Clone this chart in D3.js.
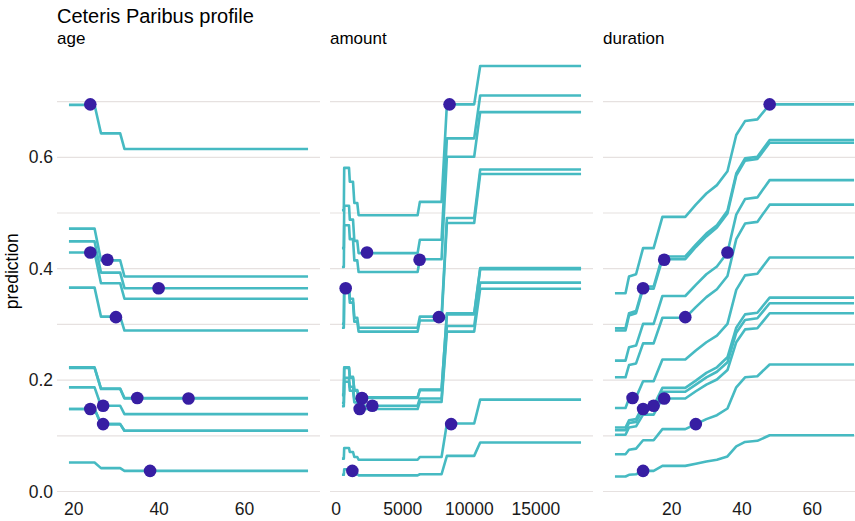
<!DOCTYPE html>
<html><head><meta charset="utf-8">
<script src="https://cdn.jsdelivr.net/npm/d3@7"></script>
<style>body{margin:0;background:#fff;} svg{display:block;}</style>
</head><body>
<svg id="chart" width="855" height="521"></svg>
<script>
// ---- data ----
const obsAge = [24, 24, 28, 40, 30, 35, 47, 27, 24, 27, 38];
const obsAmount = [8550, 2350, 6300, 750, 7750, 1970, 1970, 2750, 1800, 8670, 1250];
const obsDuration = [48, 36, 18, 12, 24, 9, 18, 15, 12, 27, 12];
const obsPrediction = [0.695, 0.429, 0.416, 0.365, 0.313, 0.168, 0.167, 0.154, 0.148, 0.121, 0.037];

const ageGrid = [19, 25, 26.5, 31, 32, 75];
const ageProfiles = [
  [0.694,0.694,0.643,0.643,0.615,0.615],
  [0.429,0.429,0.374,0.374,0.346,0.346],
  [0.472,0.472,0.415,0.415,0.386,0.386],
  [0.449,0.449,0.393,0.393,0.365,0.365],
  [0.366,0.366,0.314,0.314,0.289,0.289],
  [0.223,0.223,0.185,0.185,0.168,0.168],
  [0.222,0.222,0.184,0.184,0.167,0.167],
  [0.187,0.187,0.154,0.154,0.139,0.139],
  [0.148,0.148,0.121,0.121,0.109,0.109],
  [0.148,0.148,0.121,0.121,0.109,0.109],
  [0.052,0.052,0.042,0.042,0.037,0.037]
];

const amountGrid = [470, 610, 640, 1000, 1060, 1300, 1400, 1620, 1720, 6150, 6320, 7950, 8350, 10400, 10850, 18424];
const amountProfiles = [
  [0.505,0.505,0.581,0.581,0.556,0.556,0.518,0.518,0.496,0.496,0.520,0.520,0.695,0.695,0.764,0.764],
  [0.437,0.437,0.513,0.513,0.488,0.488,0.450,0.450,0.428,0.428,0.452,0.452,0.634,0.634,0.711,0.711],
  [0.403,0.403,0.478,0.478,0.453,0.453,0.415,0.415,0.394,0.394,0.417,0.417,0.601,0.601,0.681,0.681],
  [0.294,0.294,0.362,0.362,0.339,0.339,0.305,0.305,0.287,0.287,0.307,0.307,0.482,0.482,0.570,0.570],
  [0.301,0.301,0.370,0.370,0.346,0.346,0.312,0.312,0.294,0.294,0.314,0.314,0.491,0.491,0.578,0.578],
  [0.174,0.174,0.223,0.223,0.206,0.206,0.182,0.182,0.169,0.169,0.183,0.183,0.320,0.320,0.401,0.401],
  [0.173,0.173,0.222,0.222,0.204,0.204,0.181,0.181,0.168,0.168,0.182,0.182,0.318,0.318,0.399,0.399],
  [0.159,0.159,0.204,0.204,0.188,0.188,0.166,0.166,0.154,0.154,0.167,0.167,0.297,0.297,0.375,0.375],
  [0.153,0.153,0.197,0.197,0.181,0.181,0.160,0.160,0.148,0.148,0.161,0.161,0.287,0.287,0.364,0.364],
  [0.059,0.059,0.078,0.078,0.071,0.071,0.062,0.062,0.057,0.057,0.062,0.062,0.122,0.122,0.165,0.165],
  [0.030,0.030,0.040,0.040,0.036,0.036,0.031,0.031,0.029,0.029,0.031,0.031,0.064,0.064,0.088,0.088]
];

const durationGrid = [4, 7, 8, 10, 12, 15, 17.5, 24, 27, 30, 33, 36, 38.5, 41, 44.5, 48, 72];
const durationProfiles = [
  [0.356,0.356,0.386,0.390,0.437,0.437,0.493,0.493,0.515,0.535,0.550,0.575,0.640,0.665,0.668,0.695,0.695],
  [0.235,0.235,0.259,0.262,0.301,0.301,0.351,0.351,0.371,0.390,0.404,0.429,0.497,0.525,0.528,0.559,0.559],
  [0.289,0.289,0.316,0.320,0.364,0.364,0.417,0.417,0.439,0.458,0.474,0.499,0.567,0.594,0.597,0.626,0.626],
  [0.293,0.293,0.320,0.324,0.368,0.368,0.422,0.422,0.443,0.463,0.478,0.504,0.571,0.598,0.601,0.631,0.631],
  [0.205,0.205,0.227,0.230,0.266,0.266,0.312,0.312,0.331,0.349,0.363,0.387,0.453,0.481,0.484,0.515,0.515],
  [0.150,0.150,0.167,0.169,0.198,0.198,0.237,0.237,0.253,0.268,0.280,0.301,0.362,0.388,0.391,0.420,0.420],
  [0.102,0.102,0.115,0.117,0.138,0.138,0.167,0.167,0.180,0.192,0.201,0.218,0.268,0.291,0.293,0.320,0.320],
  [0.115,0.115,0.128,0.130,0.154,0.154,0.186,0.186,0.199,0.213,0.223,0.241,0.294,0.318,0.321,0.348,0.348],
  [0.110,0.110,0.123,0.125,0.148,0.148,0.179,0.179,0.192,0.205,0.215,0.232,0.285,0.308,0.311,0.338,0.338],
  [0.067,0.067,0.075,0.077,0.092,0.092,0.112,0.112,0.121,0.130,0.137,0.149,0.187,0.205,0.207,0.228,0.228],
  [0.027,0.027,0.030,0.031,0.037,0.037,0.046,0.046,0.050,0.054,0.057,0.063,0.081,0.089,0.091,0.101,0.101]
];

const panelNames = ["age", "amount", "duration"];
const ageTicks = [20, 40, 60];
const amountTicks = [0, 5000, 10000, 15000];
const durationTicks = [20, 40, 60];
const yTicks = [0.0, 0.2, 0.4, 0.6];
const yGrid = [0.0, 0.1, 0.2, 0.3, 0.4, 0.5, 0.6, 0.7];
const titleText = "Ceteris Paribus profile";
const yLabel = "prediction";

// ---- layout / style ----
const W = 855, H = 521;
const panelLeft = [57, 330, 603];
const panelWidth = 263;
const plotTop = 45.4, plotBottom = 497;
const lineColor = "#46bac2", dotColor = "#371ea3", gridColor = "#e6e1e0";
const font = "'Liberation Sans', Arial, Helvetica, sans-serif";

const svg = d3.select("#chart");
svg.append("rect").attr("width", W).attr("height", H).attr("fill", "#fff");

const panels = [
  {name: panelNames[0], grid: ageGrid, profiles: ageProfiles, obs: obsAge, ticks: ageTicks},
  {name: panelNames[1], grid: amountGrid, profiles: amountProfiles, obs: obsAmount, ticks: amountTicks},
  {name: panelNames[2], grid: durationGrid, profiles: durationProfiles, obs: obsDuration, ticks: durationTicks}
];

// shared y scale (ggplot-like 5% expansion)
const allY = panels.flatMap(p => p.profiles.flat()).concat(obsPrediction);
const [yMin, yMax] = d3.extent(allY);
const yPad = (yMax - yMin) * 0.05;
const y = d3.scaleLinear().domain([yMin - yPad, yMax + yPad]).range([plotBottom, plotTop]);

// title
svg.append("text").attr("x", 57).attr("y", 23).attr("font-family", font)
  .attr("font-size", 20).attr("fill", "#000").text(titleText);

// y label
svg.append("text").attr("transform", `translate(17.5,${(plotTop + plotBottom) / 2}) rotate(-90)`)
  .attr("text-anchor", "middle").attr("font-family", font).attr("font-size", 17.5)
  .attr("fill", "#000").text(yLabel);

// y axis labels
const yAxis = d3.axisLeft(y).tickValues(yTicks).tickSize(0).tickPadding(4)
  .tickFormat(d3.format(".1f"));
const yg = svg.append("g").attr("transform", `translate(${panelLeft[0]},0)`).call(yAxis);
yg.select(".domain").remove();
yg.selectAll("text").attr("font-family", font).attr("font-size", 17.5).attr("fill", "#1a1a1a");

panels.forEach((p, i) => {
  const x0 = panelLeft[i];
  const ext = d3.extent(p.grid.concat(p.obs));
  const pad = (ext[1] - ext[0]) * 0.05;
  const x = d3.scaleLinear().domain([ext[0] - pad, ext[1] + pad]).range([x0, x0 + panelWidth]);
  const g = svg.append("g");

  // grid lines
  g.selectAll("line.grid").data(yGrid).join("line")
    .attr("x1", x0).attr("x2", x0 + panelWidth)
    .attr("y1", d => y(d)).attr("y2", d => y(d))
    .attr("stroke", gridColor).attr("stroke-width", 1.2);

  // strip label
  g.append("text").attr("x", x0).attr("y", 43.5).attr("font-family", font)
    .attr("font-size", 17).attr("fill", "#000").text(p.name);

  // x axis labels
  const xAxis = d3.axisBottom(x).tickValues(p.ticks).tickSize(0).tickPadding(0)
    .tickFormat(d3.format("d"));
  const xg = g.append("g").attr("transform", `translate(0,${plotBottom})`).call(xAxis);
  xg.select(".domain").remove();
  xg.selectAll("text").attr("font-family", font).attr("font-size", 17.5)
    .attr("fill", "#1a1a1a").attr("dy", "1.05em");

  // profile lines
  const line = d3.line().x((d, k) => x(p.grid[k])).y(d => y(d));
  g.selectAll("path.profile").data(p.profiles).join("path")
    .attr("d", line).attr("fill", "none").attr("stroke", lineColor)
    .attr("stroke-width", 2.6).attr("stroke-linejoin", "round");

  // observation dots
  g.selectAll("circle").data(p.obs).join("circle")
    .attr("cx", d => x(d)).attr("cy", (d, k) => y(obsPrediction[k]))
    .attr("r", 6.3).attr("fill", dotColor);
});
</script>
</body></html>
